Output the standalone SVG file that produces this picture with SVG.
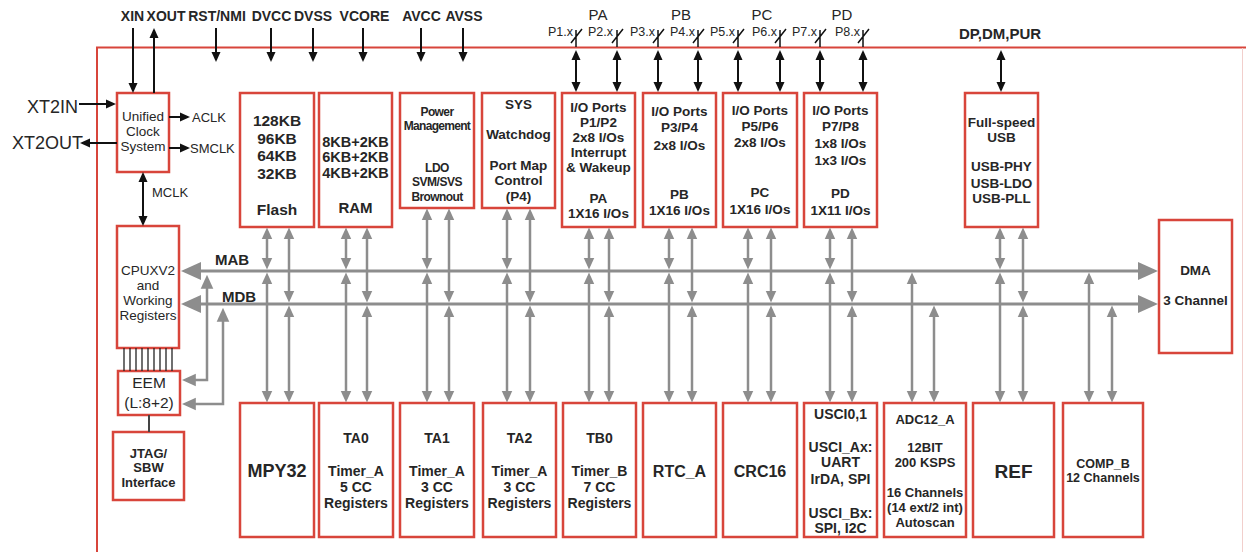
<svg xmlns="http://www.w3.org/2000/svg" width="1246" height="552" viewBox="0 0 1246 552">
<style>
.box{fill:#fff;stroke:#d8453b;stroke-width:2.5}
text{font-family:"Liberation Sans",Arial,sans-serif;fill:#262626;text-anchor:middle}
.b{font-weight:bold}
.l{text-anchor:start}
.e{text-anchor:end}
.bk{stroke:#111;stroke-width:2;fill:none}
.gr{stroke:#8d8d8d;stroke-width:2.5;fill:none}
.bus{stroke:#8d8d8d;stroke-width:3;fill:none}
.ba2{marker-start:url(#ba);marker-end:url(#ba)}
.ba1{marker-end:url(#ba)}
.ga2{marker-start:url(#ga);marker-end:url(#ga)}
</style>
<defs>
<marker id="ba" viewBox="0 0 10 10" refX="8" refY="5" markerWidth="10" markerHeight="10" markerUnits="userSpaceOnUse" orient="auto-start-reverse"><path d="M0,0.5 L10,5 L0,9.5z" fill="#111"/></marker>
<marker id="ga" viewBox="0 0 10 10" refX="7" refY="5" markerWidth="12" markerHeight="12" markerUnits="userSpaceOnUse" orient="auto-start-reverse"><path d="M0,0.5 L10,5 L0,9.5z" fill="#8d8d8d"/></marker>
<marker id="gm" viewBox="0 0 10 10" refX="7" refY="5" markerWidth="14" markerHeight="14" markerUnits="userSpaceOnUse" orient="auto-start-reverse"><path d="M0,0.5 L10,5 L0,9.5z" fill="#8d8d8d"/></marker>
<marker id="gb" viewBox="0 0 10 10" refX="7" refY="5" markerWidth="20" markerHeight="20" markerUnits="userSpaceOnUse" orient="auto-start-reverse"><path d="M0,0.5 L10,5 L0,9.5z" fill="#8d8d8d"/></marker>
</defs>
<rect width="1246" height="552" fill="#fff"/>
<!-- chip frame -->
<g id="frame">
<path d="M97,552 V47.5 H1246" fill="none" stroke="#d8453b" stroke-width="2"/>
<line x1="1242.5" y1="48" x2="1242.5" y2="552" stroke="#f2cfcc" stroke-width="1"/>
</g>
<!-- external pin labels -->
<g id="pins">
<text class="b" x="132.5" y="21" font-size="14">XIN</text>
<text class="b" x="166" y="21" font-size="14">XOUT</text>
<text class="b" x="217" y="21" font-size="14">RST/NMI</text>
<text class="b" x="271.5" y="21" font-size="14">DVCC</text>
<text class="b" x="313" y="21" font-size="14">DVSS</text>
<text class="b" x="364.5" y="21" font-size="14">VCORE</text>
<text class="b" x="421.5" y="21" font-size="14">AVCC</text>
<text class="b" x="464" y="21" font-size="14">AVSS</text>
<text x="598" y="19.5" font-size="15">PA</text>
<text x="681" y="19.5" font-size="15">PB</text>
<text x="762" y="19.5" font-size="15">PC</text>
<text x="842" y="19.5" font-size="15">PD</text>
<text class="e" x="573" y="36" font-size="12.5">P1.x</text>
<text class="e" x="613" y="36" font-size="12.5">P2.x</text>
<text class="e" x="655" y="36" font-size="12.5">P3.x</text>
<text class="e" x="695" y="36" font-size="12.5">P4.x</text>
<text class="e" x="735" y="36" font-size="12.5">P5.x</text>
<text class="e" x="777" y="36" font-size="12.5">P6.x</text>
<text class="e" x="817" y="36" font-size="12.5">P7.x</text>
<text class="e" x="860" y="36" font-size="12.5">P8.x</text>
<text class="b" x="1000" y="39" font-size="15">DP,DM,PUR</text>
<text x="27" y="113" font-size="18" class="l">XT2IN</text>
<text x="12" y="149" font-size="18" class="l">XT2OUT</text>
<text x="192" y="121.5" font-size="13" class="l">ACLK</text>
<text x="190" y="152.5" font-size="13" class="l">SMCLK</text>
<text x="152" y="197" font-size="13" class="l">MCLK</text>
<text class="b l" x="215" y="265" font-size="15">MAB</text>
<text class="b l" x="222" y="302" font-size="15">MDB</text>
</g>
<!-- nodes -->
<g id="clock"><rect class="box" x="117" y="93" width="52" height="79"/>
<text x="143" y="121" font-size="13.5">Unified</text><text x="143" y="136" font-size="13.5">Clock</text><text x="143" y="151" font-size="13.5">System</text></g>
<g id="flash"><rect class="box" x="240" y="93" width="74" height="134"/>
<text class="b" x="277" y="125.5" font-size="15.5">128KB</text><text class="b" x="277" y="143.5" font-size="15.5">96KB</text><text class="b" x="277" y="160.5" font-size="15.5">64KB</text><text class="b" x="277" y="178.5" font-size="15.5">32KB</text><text class="b" x="277" y="214.5" font-size="15.5">Flash</text></g>
<g id="ram"><rect class="box" x="319" y="93" width="73" height="134"/>
<text class="b" x="355.5" y="147" font-size="14.5">8KB+2KB</text><text class="b" x="355.5" y="162" font-size="14.5">6KB+2KB</text><text class="b" x="355.5" y="178" font-size="14.5">4KB+2KB</text><text class="b" x="355.5" y="212.5" font-size="15">RAM</text></g>
<g id="power"><rect class="box" x="400" y="93" width="74" height="115"/>
<text class="b" x="437" y="116" font-size="12" letter-spacing="-0.6">Power</text><text class="b" x="437" y="130" font-size="12" letter-spacing="-0.7">Management</text><text class="b" x="437" y="172" font-size="12" letter-spacing="-0.5">LDO</text><text class="b" x="437" y="186" font-size="12" letter-spacing="-0.5">SVM/SVS</text><text class="b" x="437" y="201" font-size="12" letter-spacing="-0.6">Brownout</text></g>
<g id="sys"><rect class="box" x="482" y="93" width="73" height="115"/>
<text class="b" x="518.5" y="109" font-size="13.5">SYS</text><text class="b" x="518.5" y="139" font-size="13.5">Watchdog</text><text class="b" x="518.5" y="170" font-size="13.5">Port Map</text><text class="b" x="518.5" y="185" font-size="13.5">Control</text><text class="b" x="518.5" y="201" font-size="13.5">(P4)</text></g>
<g id="pa"><rect class="box" x="562" y="93" width="73" height="134"/>
<text class="b" x="598.5" y="112" font-size="13.5">I/O Ports</text><text class="b" x="598.5" y="127" font-size="13.5">P1/P2</text><text class="b" x="598.5" y="142" font-size="13.5">2x8 I/Os</text><text class="b" x="598.5" y="157" font-size="13.5">Interrupt</text><text class="b" x="598.5" y="172" font-size="13.5">&amp; Wakeup</text><text class="b" x="598.5" y="203" font-size="13.5">PA</text><text class="b" x="598.5" y="218" font-size="13.5">1X16 I/Os</text></g>
<g id="pb"><rect class="box" x="643" y="93" width="73" height="134"/>
<text class="b" x="679.5" y="116" font-size="13.5">I/O Ports</text><text class="b" x="679.5" y="132" font-size="13.5">P3/P4</text><text class="b" x="679.5" y="150" font-size="13.5">2x8 I/Os</text><text class="b" x="679.5" y="199" font-size="13.5">PB</text><text class="b" x="679.5" y="215" font-size="13.5">1X16 I/Os</text></g>
<g id="pc"><rect class="box" x="723" y="93" width="74" height="134"/>
<text class="b" x="760" y="115" font-size="13.5">I/O Ports</text><text class="b" x="760" y="131" font-size="13.5">P5/P6</text><text class="b" x="760" y="147" font-size="13.5">2x8 I/Os</text><text class="b" x="760" y="197" font-size="13.5">PC</text><text class="b" x="760" y="214" font-size="13.5">1X16 I/Os</text></g>
<g id="pd"><rect class="box" x="804" y="93" width="73" height="134"/>
<text class="b" x="840.5" y="115" font-size="13.5">I/O Ports</text><text class="b" x="840.5" y="131" font-size="13.5">P7/P8</text><text class="b" x="840.5" y="148" font-size="13.5">1x8 I/Os</text><text class="b" x="840.5" y="165" font-size="13.5">1x3 I/Os</text><text class="b" x="840.5" y="198" font-size="13.5">PD</text><text class="b" x="840.5" y="215" font-size="13.5">1X11 I/Os</text></g>
<g id="usb"><rect class="box" x="965" y="93" width="73" height="134"/>
<text class="b" x="1001.5" y="127" font-size="13.5">Full-speed</text><text class="b" x="1001.5" y="142" font-size="13.5">USB</text><text class="b" x="1001.5" y="171" font-size="13.5">USB-PHY</text><text class="b" x="1001.5" y="188" font-size="13.5">USB-LDO</text><text class="b" x="1001.5" y="203" font-size="13.5">USB-PLL</text></g>
<g id="dma"><rect class="box" x="1159" y="220" width="73" height="133"/>
<text class="b" x="1195.5" y="275" font-size="13.5">DMA</text><text class="b" x="1195.5" y="305" font-size="13.5">3 Channel</text></g>
<g id="cpu"><rect class="box" x="117" y="226" width="62" height="122"/>
<text x="148" y="275" font-size="13.5">CPUXV2</text><text x="148" y="290" font-size="13.5">and</text><text x="148" y="305" font-size="13.5">Working</text><text x="148" y="320" font-size="13.5">Registers</text></g>
<g id="eem"><rect class="box" x="118" y="371" width="62" height="44"/>
<text x="149" y="387.5" font-size="15.5">EEM</text><text x="149" y="407.5" font-size="15.5">(L:8+2)</text></g>
<g id="jtag"><rect class="box" x="113" y="432" width="71" height="68"/>
<text class="b" x="148.5" y="458" font-size="13">JTAG/</text><text class="b" x="148.5" y="471.5" font-size="13">SBW</text><text class="b" x="148.5" y="487" font-size="13">Interface</text></g>
<g id="mpy32"><rect class="box" x="240" y="403" width="74" height="134"/>
<text class="b" x="277" y="476.5" font-size="18">MPY32</text></g>
<g id="ta0"><rect class="box" x="319" y="403" width="74" height="134"/>
<text class="b" x="356" y="443" font-size="14">TA0</text><text class="b" x="356" y="476" font-size="14">Timer_A</text><text class="b" x="356" y="492" font-size="14">5 CC</text><text class="b" x="356" y="508" font-size="14">Registers</text></g>
<g id="ta1"><rect class="box" x="400" y="403" width="74" height="134"/>
<text class="b" x="437" y="443" font-size="14">TA1</text><text class="b" x="437" y="476" font-size="14">Timer_A</text><text class="b" x="437" y="492" font-size="14">3 CC</text><text class="b" x="437" y="508" font-size="14">Registers</text></g>
<g id="ta2"><rect class="box" x="483" y="403" width="73" height="134"/>
<text class="b" x="519.5" y="443" font-size="14">TA2</text><text class="b" x="519.5" y="476" font-size="14">Timer_A</text><text class="b" x="519.5" y="492" font-size="14">3 CC</text><text class="b" x="519.5" y="508" font-size="14">Registers</text></g>
<g id="tb0"><rect class="box" x="563" y="403" width="73" height="134"/>
<text class="b" x="599.5" y="443" font-size="14">TB0</text><text class="b" x="599.5" y="476" font-size="14">Timer_B</text><text class="b" x="599.5" y="492" font-size="14">7 CC</text><text class="b" x="599.5" y="508" font-size="14">Registers</text></g>
<g id="rtc"><rect class="box" x="643" y="403" width="73" height="134"/>
<text class="b" x="679.5" y="477" font-size="16">RTC_A</text></g>
<g id="crc16"><rect class="box" x="723" y="403" width="74" height="134"/>
<text class="b" x="760" y="477" font-size="16">CRC16</text></g>
<g id="usci"><rect class="box" x="804" y="403" width="73" height="134"/>
<text class="b" x="840.5" y="419" font-size="14">USCI0,1</text><text class="b" x="840.5" y="452" font-size="14">USCI_Ax:</text><text class="b" x="840.5" y="467" font-size="14">UART</text><text class="b" x="840.5" y="484" font-size="14">IrDA, SPI</text><text class="b" x="840.5" y="518" font-size="14">USCI_Bx:</text><text class="b" x="840.5" y="533" font-size="14">SPI, I2C</text></g>
<g id="adc"><rect class="box" x="884" y="403" width="82" height="134"/>
<text class="b" x="925" y="423.5" font-size="13">ADC12_A</text><text class="b" x="925" y="451.5" font-size="13">12BIT</text><text class="b" x="925" y="466.5" font-size="13">200 KSPS</text><text class="b" x="925" y="496.5" font-size="13">16 Channels</text><text class="b" x="925" y="511.5" font-size="13">(14 ext/2 int)</text><text class="b" x="925" y="526.5" font-size="13">Autoscan</text></g>
<g id="ref"><rect class="box" x="973" y="403" width="81" height="134"/>
<text class="b" x="1013.5" y="478" font-size="19">REF</text></g>
<g id="compb"><rect class="box" x="1063" y="403" width="80" height="134"/>
<text class="b" x="1103" y="467.5" font-size="12.5">COMP_B</text><text class="b" x="1103" y="481.5" font-size="12.5">12 Channels</text></g>
<!-- connectors -->
<g id="connectors">
<line class="bk ba1" x1="133" y1="28" x2="133" y2="91"/>
<line class="bk ba1" x1="154" y1="93" x2="154" y2="30"/>
<line class="bk ba1" x1="216" y1="28" x2="216" y2="60"/>
<line class="bk ba1" x1="271" y1="28" x2="271" y2="60"/>
<line class="bk ba1" x1="313" y1="28" x2="313" y2="60"/>
<line class="bk ba1" x1="363" y1="28" x2="363" y2="60"/>
<line class="bk ba1" x1="421" y1="28" x2="421" y2="60"/>
<line class="bk ba1" x1="463" y1="28" x2="463" y2="60"/>
<line class="bk ba1" x1="79" y1="104" x2="114" y2="104"/>
<line class="bk ba1" x1="117" y1="143" x2="82" y2="143"/>
<line class="bk ba1" x1="169" y1="117" x2="188" y2="117"/>
<line class="bk ba1" x1="169" y1="148" x2="188" y2="148"/>
<line class="bk ba2" x1="143" y1="174" x2="143" y2="224"/>
<g class="bk ba2">
<line x1="576" y1="52" x2="576" y2="90"/><line x1="617" y1="52" x2="617" y2="90"/>
<line x1="658" y1="52" x2="658" y2="90"/><line x1="698" y1="52" x2="698" y2="90"/>
<line x1="738" y1="52" x2="738" y2="90"/><line x1="780" y1="52" x2="780" y2="90"/>
<line x1="820" y1="52" x2="820" y2="90"/><line x1="863" y1="52" x2="863" y2="90"/>
<line x1="1001" y1="52" x2="1001" y2="90"/>
</g>
<g stroke="#111" stroke-width="1.5" fill="none">
<path d="M576,30 V47 M571,43 L582,29"/><path d="M617,30 V47 M612,43 L623,29"/>
<path d="M658,30 V47 M653,43 L664,29"/><path d="M698,30 V47 M693,43 L704,29"/>
<path d="M738,30 V47 M733,43 L744,29"/><path d="M780,30 V47 M775,43 L786,29"/>
<path d="M820,30 V47 M815,43 L826,29"/><path d="M863,30 V47 M858,43 L869,29"/>
</g>
<g stroke="#222" stroke-width="1.3">
<line x1="124" y1="348" x2="124" y2="371"/><line x1="130" y1="348" x2="130" y2="371"/><line x1="136" y1="348" x2="136" y2="371"/>
<line x1="142" y1="348" x2="142" y2="371"/><line x1="148" y1="348" x2="148" y2="371"/><line x1="154" y1="348" x2="154" y2="371"/>
<line x1="160" y1="348" x2="160" y2="371"/><line x1="166" y1="348" x2="166" y2="371"/><line x1="172" y1="348" x2="172" y2="371"/>
</g>
<line x1="149" y1="415" x2="149" y2="432" stroke="#444" stroke-width="2"/>
<line class="bus" x1="187" y1="271" x2="1152" y2="271" marker-start="url(#gb)" marker-end="url(#gb)"/>
<line class="bus" x1="187" y1="304" x2="1152" y2="304" marker-start="url(#gb)" marker-end="url(#gb)"/>
<path class="gr" d="M207,279 V380 H186" marker-start="url(#gm)" marker-end="url(#gm)"/>
<path class="gr" d="M223,312 V404 H186" marker-start="url(#gm)" marker-end="url(#gm)"/>
<g class="gr ga2">
<line x1="267" y1="231" x2="267" y2="266"/><line x1="267" y1="276" x2="267" y2="399"/>
<line x1="289" y1="231" x2="289" y2="299"/><line x1="289" y1="309" x2="289" y2="399"/>
<line x1="346" y1="231" x2="346" y2="266"/><line x1="346" y1="276" x2="346" y2="399"/>
<line x1="367" y1="231" x2="367" y2="299"/><line x1="367" y1="309" x2="367" y2="399"/>
<line x1="427" y1="212" x2="427" y2="266"/><line x1="427" y1="276" x2="427" y2="399"/>
<line x1="449" y1="212" x2="449" y2="299"/><line x1="449" y1="309" x2="449" y2="399"/>
<line x1="507" y1="212" x2="507" y2="266"/><line x1="507" y1="276" x2="507" y2="399"/>
<line x1="530" y1="212" x2="530" y2="299"/><line x1="530" y1="309" x2="530" y2="399"/>
<line x1="589" y1="231" x2="589" y2="266"/><line x1="589" y1="276" x2="589" y2="399"/>
<line x1="609" y1="231" x2="609" y2="299"/><line x1="609" y1="309" x2="609" y2="399"/>
<line x1="669" y1="231" x2="669" y2="266"/><line x1="669" y1="276" x2="669" y2="399"/>
<line x1="692" y1="231" x2="692" y2="299"/><line x1="692" y1="309" x2="692" y2="399"/>
<line x1="748" y1="231" x2="748" y2="266"/><line x1="748" y1="276" x2="748" y2="399"/>
<line x1="771" y1="231" x2="771" y2="299"/><line x1="771" y1="309" x2="771" y2="399"/>
<line x1="830" y1="231" x2="830" y2="266"/><line x1="830" y1="276" x2="830" y2="399"/>
<line x1="852" y1="231" x2="852" y2="299"/><line x1="852" y1="309" x2="852" y2="399"/>
<line x1="912" y1="276" x2="912" y2="399"/>
<line x1="934" y1="309" x2="934" y2="399"/>
<line x1="1000" y1="231" x2="1000" y2="266"/><line x1="1000" y1="276" x2="1000" y2="399"/>
<line x1="1023" y1="231" x2="1023" y2="299"/><line x1="1023" y1="309" x2="1023" y2="399"/>
<line x1="1089" y1="276" x2="1089" y2="399"/>
<line x1="1112" y1="309" x2="1112" y2="399"/>
</g>
</g>
</svg>
